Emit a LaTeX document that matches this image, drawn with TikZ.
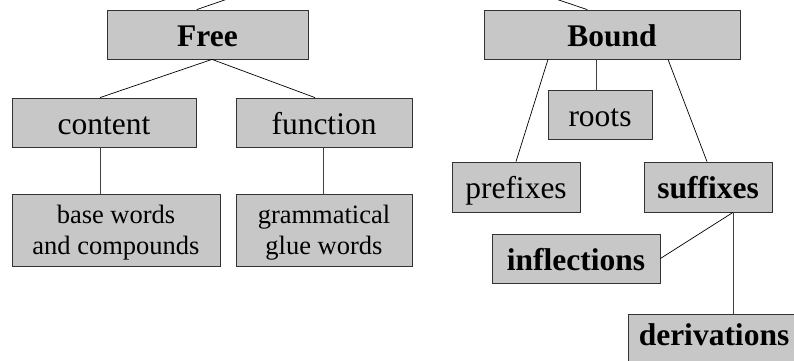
\documentclass[tikz,border=0pt]{standalone}
\usepackage{fontspec}
\setmainfont{Liberation Serif}
\begin{document}
\begin{tikzpicture}[x=1pt,y=-1pt,
  box/.style={draw=black!80, line width=0.8pt, fill=black!22, inner sep=0pt,
    font=\fontsize{31.5}{38}\selectfont, text height=23pt, text depth=0pt},
  twoline/.style={draw=black!80, line width=0.8pt, fill=black!22, inner sep=0pt,
    align=center, font=\fontsize{26.5}{31}\selectfont, text depth=0pt},
  link/.style={draw=black, line width=0.7pt},
  stem/.style={draw=black!75, line width=0.9pt}]
\useasboundingbox (0,0) rectangle (794,360);
\clip (0,0) rectangle (794,360);

% free morphemes
\node[box, minimum width=201pt, minimum height=49pt] (free) at (207.5,34.5) {\textbf{Free}};
\node[box, minimum width=184pt, minimum height=49pt] (content) at (104,122.5) {content};
\node[box, minimum width=176pt, minimum height=49pt] (function) at (324,122.5) {function};
\node[twoline, minimum width=208pt, minimum height=72pt] (base) at (116,230) {base words\\and compounds};
\node[twoline, minimum width=176pt, minimum height=72pt] (glue) at (324,230) {grammatical\\glue words};

% bound morphemes
\node[box, minimum width=256pt, minimum height=49pt] (bound) at (612,34.5) {\textbf{Bound}};
\node[box, minimum width=104pt, minimum height=49pt] (roots) at (600,114.5) {roots};
\node[box, minimum width=128pt, minimum height=50pt] (prefixes) at (516,187) {prefixes};
\node[box, minimum width=128pt, minimum height=50pt] (suffixes) at (708,187) {\textbf{suffixes}};
\node[box, minimum width=168pt, minimum height=49pt] (inflections) at (576,258.5) {\textbf{inflections}};
\node[box, minimum width=172pt, minimum height=48pt, text height=22.7pt, text depth=8.7pt] (derivations) at (714,338) {\textbf{derivations}};

% lines leaving the top edge
\coordinate (freeup) at (239,-5);
\coordinate (boundup) at (544,-5);
\draw[link] ([xshift=-10.8pt]free.north) -- (freeup);
\draw[link] ([xshift=-24.7pt]bound.north) -- (boundup);

% connectors
\draw[link] ([xshift=4.5pt]free.south) -- ([xshift=-4pt]content.north);
\draw[link] ([xshift=4.5pt]free.south) -- ([xshift=-9pt]function.north);
\draw[stem] ([xshift=-4pt]content.south) -- ([xshift=-4pt]content.south |- base.north);
\draw[stem] ([xshift=-1pt]function.south) -- ([xshift=-1pt]function.south |- glue.north);

\draw[stem] ([xshift=-4pt]roots.north |- bound.south) -- ([xshift=-4pt]roots.north);
\draw[link] ([xshift=-64pt]bound.south) -- (prefixes.north);
\draw[link] ([xshift=56pt]bound.south) -- ([xshift=-1pt]suffixes.north);
\draw[link] ([xshift=25pt]suffixes.south) -- (inflections.east);
\draw[stem] ([xshift=25pt]suffixes.south) -- ([xshift=25pt]suffixes.south |- derivations.north);
\end{tikzpicture}
\end{document}
